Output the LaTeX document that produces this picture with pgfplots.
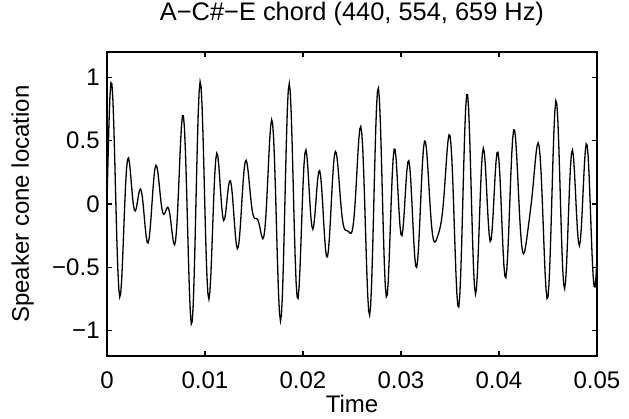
\documentclass[border=0pt]{standalone}
\usepackage{fontspec}
\setmainfont{Liberation Sans}
\usepackage{pgfplots}
\pgfplotsset{compat=1.18}
\begin{document}
\fontsize{12}{14}\selectfont
\begin{tikzpicture}
\path[use as bounding box] (0,0) rectangle (314.5pt,209.5pt);
\begin{axis}[
  at={(53.5pt,31.5pt)}, anchor=south west,
  scale only axis, width=245pt, height=152pt,
  xmin=0, xmax=0.05, ymin=-1.2, ymax=1.2,
  scaled x ticks=false, scaled y ticks=false,
  xtick={0,0.01,0.02,0.03,0.04,0.05},
  xticklabels={0,0.01,0.02,0.03,0.04,0.05},
  ytick={-1,-0.5,0,0.5,1},
  yticklabels={−1,−0.5,0,0.5,1},
  tick align=inside,
  major tick length=2.5pt,
  axis line style={line width=0.9pt},
  tick style={line width=0.7pt, black},
  xticklabel style={anchor=north, inner sep=0pt, yshift=-7.5pt},
  yticklabel style={anchor=east, inner sep=0pt, xshift=-3.5pt},
  title={A−C\#−E chord (440, 554, 659 Hz)},
  title style={at={(axis description cs:0.5,1)}, anchor=base, yshift=10pt, inner sep=0pt, font=\fontsize{12.7}{14}\selectfont},
  xlabel={Time},
  xlabel style={at={(axis description cs:0.5,0)}, anchor=base, yshift=-28pt, inner sep=0pt},
  ylabel={Speaker cone location},
  ylabel style={at={(axis description cs:0,0.5)}, anchor=base, yshift=39pt, inner sep=0pt},
]
\addplot[black, line width=0.65pt] coordinates {
(0,0) (0.0001,0.339) (0.0002,0.634) (0.0003,0.849) (0.0004,0.958) (0.0005,0.948) (0.0006,0.825) (0.0007,0.608) (0.0008,0.327) (0.0009,0.022)
(0.0010,-0.268) (0.0011,-0.507) (0.0012,-0.667) (0.0013,-0.734) (0.0014,-0.707) (0.0015,-0.597) (0.0016,-0.426) (0.0017,-0.224) (0.0018,-0.021) (0.0019,0.156)
(0.0020,0.284) (0.0021,0.354) (0.0022,0.364) (0.0023,0.322) (0.0024,0.244) (0.0025,0.150) (0.0026,0.059) (0.0027,-0.011) (0.0028,-0.050) (0.0029,-0.055)
(0.0030,-0.030) (0.0031,0.014) (0.0032,0.063) (0.0033,0.102) (0.0034,0.119) (0.0035,0.105) (0.0036,0.060) (0.0037,-0.011) (0.0038,-0.098) (0.0039,-0.186)
(0.0040,-0.258) (0.0041,-0.302) (0.0042,-0.308) (0.0043,-0.273) (0.0044,-0.200) (0.0045,-0.099) (0.0046,0.016) (0.0047,0.127) (0.0048,0.220) (0.0049,0.282)
(0.0050,0.306) (0.0051,0.292) (0.0052,0.245) (0.0053,0.175) (0.0054,0.097) (0.0055,0.023) (0.0056,-0.036) (0.0057,-0.071) (0.0058,-0.082) (0.0059,-0.073)
(0.0060,-0.054) (0.0061,-0.034) (0.0062,-0.026) (0.0063,-0.038) (0.0064,-0.073) (0.0065,-0.129) (0.0066,-0.196) (0.0067,-0.262) (0.0068,-0.309) (0.0069,-0.322)
(0.0070,-0.288) (0.0071,-0.202) (0.0072,-0.066) (0.0073,0.106) (0.0074,0.295) (0.0075,0.475) (0.0076,0.617) (0.0077,0.697) (0.0078,0.696) (0.0079,0.604)
(0.0080,0.426) (0.0081,0.180) (0.0082,-0.108) (0.0083,-0.402) (0.0084,-0.662) (0.0085,-0.853) (0.0086,-0.947) (0.0087,-0.927) (0.0088,-0.793) (0.0089,-0.558)
(0.0090,-0.252) (0.0091,0.088) (0.0092,0.417) (0.0093,0.695) (0.0094,0.886) (0.0095,0.966) (0.0096,0.927) (0.0097,0.777) (0.0098,0.538) (0.0099,0.244)
(0.0100,-0.066) (0.0101,-0.350) (0.0102,-0.574) (0.0103,-0.711) (0.0104,-0.751) (0.0105,-0.694) (0.0106,-0.556) (0.0107,-0.362) (0.0108,-0.145) (0.0109,0.065)
(0.0110,0.237) (0.0111,0.353) (0.0112,0.401) (0.0113,0.384) (0.0114,0.312) (0.0115,0.206) (0.0116,0.089) (0.0117,-0.018) (0.0118,-0.094) (0.0119,-0.130)
(0.0120,-0.122) (0.0121,-0.076) (0.0122,-0.004) (0.0123,0.074) (0.0124,0.141) (0.0125,0.181) (0.0126,0.183) (0.0127,0.143) (0.0128,0.067) (0.0129,-0.035)
(0.0130,-0.145) (0.0131,-0.246) (0.0132,-0.320) (0.0133,-0.353) (0.0134,-0.340) (0.0135,-0.281) (0.0136,-0.183) (0.0137,-0.061) (0.0138,0.068) (0.0139,0.186)
(0.0140,0.278) (0.0141,0.332) (0.0142,0.345) (0.0143,0.319) (0.0144,0.261) (0.0145,0.183) (0.0146,0.099) (0.0147,0.021) (0.0148,-0.042) (0.0149,-0.084)
(0.0150,-0.106) (0.0151,-0.114) (0.0152,-0.114) (0.0153,-0.116) (0.0154,-0.127) (0.0155,-0.150) (0.0156,-0.184) (0.0157,-0.224) (0.0158,-0.257) (0.0159,-0.274)
(0.0160,-0.259) (0.0161,-0.206) (0.0162,-0.110) (0.0163,0.024) (0.0164,0.185) (0.0165,0.353) (0.0166,0.505) (0.0167,0.616) (0.0168,0.665) (0.0169,0.636)
(0.0170,0.525) (0.0171,0.336) (0.0172,0.089) (0.0173,-0.189) (0.0174,-0.464) (0.0175,-0.698) (0.0176,-0.859) (0.0177,-0.923) (0.0178,-0.876) (0.0179,-0.720)
(0.0180,-0.473) (0.0181,-0.164) (0.0182,0.169) (0.0183,0.483) (0.0184,0.738) (0.0185,0.901) (0.0186,0.952) (0.0187,0.886) (0.0188,0.713) (0.0189,0.459)
(0.0190,0.159) (0.0191,-0.147) (0.0192,-0.418) (0.0193,-0.622) (0.0194,-0.733) (0.0195,-0.745) (0.0196,-0.660) (0.0197,-0.499) (0.0198,-0.289) (0.0199,-0.063)
(0.0200,0.145) (0.0201,0.307) (0.0202,0.403) (0.0203,0.427) (0.0204,0.381) (0.0205,0.283) (0.0206,0.153) (0.0207,0.018) (0.0208,-0.098) (0.0209,-0.174)
(0.0210,-0.198) (0.0211,-0.171) (0.0212,-0.100) (0.0213,-0.001) (0.0214,0.106) (0.0215,0.197) (0.0216,0.253) (0.0217,0.263) (0.0218,0.222) (0.0219,0.133)
(0.0220,0.011) (0.0221,-0.126) (0.0222,-0.256) (0.0223,-0.358) (0.0224,-0.415) (0.0225,-0.418) (0.0226,-0.364) (0.0227,-0.262) (0.0228,-0.126) (0.0229,0.027)
(0.0230,0.173) (0.0231,0.296) (0.0232,0.379) (0.0233,0.415) (0.0234,0.403) (0.0235,0.349) (0.0236,0.264) (0.0237,0.163) (0.0238,0.059) (0.0239,-0.034)
(0.0240,-0.108) (0.0241,-0.160) (0.0242,-0.190) (0.0243,-0.204) (0.0244,-0.209) (0.0245,-0.211) (0.0246,-0.215) (0.0247,-0.222) (0.0248,-0.230) (0.0249,-0.231)
(0.0250,-0.218) (0.0251,-0.180) (0.0252,-0.113) (0.0253,-0.015) (0.0254,0.110) (0.0255,0.252) (0.0256,0.393) (0.0257,0.514) (0.0258,0.593) (0.0259,0.612)
(0.0260,0.560) (0.0261,0.435) (0.0262,0.242) (0.0263,0.002) (0.0264,-0.258) (0.0265,-0.508) (0.0266,-0.713) (0.0267,-0.843) (0.0268,-0.877) (0.0269,-0.807)
(0.0270,-0.636) (0.0271,-0.383) (0.0272,-0.079) (0.0273,0.240) (0.0274,0.532) (0.0275,0.760) (0.0276,0.893) (0.0277,0.916) (0.0278,0.826) (0.0279,0.637)
(0.0280,0.375) (0.0281,0.077) (0.0282,-0.218) (0.0283,-0.470) (0.0284,-0.648) (0.0285,-0.733) (0.0286,-0.717) (0.0287,-0.609) (0.0288,-0.430) (0.0289,-0.210)
(0.0290,0.016) (0.0291,0.215) (0.0292,0.359) (0.0293,0.433) (0.0294,0.430) (0.0295,0.358) (0.0296,0.235) (0.0297,0.087) (0.0298,-0.058) (0.0299,-0.174)
(0.0300,-0.242) (0.0301,-0.250) (0.0302,-0.200) (0.0303,-0.102) (0.0304,0.024) (0.0305,0.155) (0.0306,0.264) (0.0307,0.331) (0.0308,0.341) (0.0309,0.290)
(0.0310,0.183) (0.0311,0.036) (0.0312,-0.129) (0.0313,-0.287) (0.0314,-0.414) (0.0315,-0.489) (0.0316,-0.500) (0.0317,-0.445) (0.0318,-0.331) (0.0319,-0.174)
(0.0320,0.006) (0.0321,0.183) (0.0322,0.335) (0.0323,0.443) (0.0324,0.497) (0.0325,0.493) (0.0326,0.435) (0.0327,0.336) (0.0328,0.211) (0.0329,0.077)
(0.0330,-0.048) (0.0331,-0.154) (0.0332,-0.231) (0.0333,-0.279) (0.0334,-0.300) (0.0335,-0.299) (0.0336,-0.285) (0.0337,-0.264) (0.0338,-0.240) (0.0339,-0.214)
(0.0340,-0.183) (0.0341,-0.143) (0.0342,-0.089) (0.0343,-0.015) (0.0344,0.078) (0.0345,0.187) (0.0346,0.303) (0.0347,0.413) (0.0348,0.500) (0.0349,0.547)
(0.0350,0.541) (0.0351,0.471) (0.0352,0.338) (0.0353,0.150) (0.0354,-0.075) (0.0355,-0.312) (0.0356,-0.532) (0.0357,-0.705) (0.0358,-0.804) (0.0359,-0.813)
(0.0360,-0.725) (0.0361,-0.546) (0.0362,-0.295) (0.0363,-0.003) (0.0364,0.295) (0.0365,0.560) (0.0366,0.758) (0.0367,0.863) (0.0368,0.862) (0.0369,0.753)
(0.0370,0.555) (0.0371,0.293) (0.0372,0.004) (0.0373,-0.273) (0.0374,-0.502) (0.0375,-0.653) (0.0376,-0.711) (0.0377,-0.670) (0.0378,-0.544) (0.0379,-0.355)
(0.0380,-0.134) (0.0381,0.085) (0.0382,0.269) (0.0383,0.392) (0.0384,0.440) (0.0385,0.411) (0.0386,0.316) (0.0387,0.175) (0.0388,0.015) (0.0389,-0.132)
(0.0390,-0.242) (0.0391,-0.295) (0.0392,-0.282) (0.0393,-0.206) (0.0394,-0.082) (0.0395,0.068) (0.0396,0.217) (0.0397,0.338) (0.0398,0.406) (0.0399,0.409)
(0.0400,0.342) (0.0401,0.213) (0.0402,0.039) (0.0403,-0.154) (0.0404,-0.337) (0.0405,-0.483) (0.0406,-0.568) (0.0407,-0.581) (0.0408,-0.517) (0.0409,-0.385)
(0.0410,-0.202) (0.0411,0.006) (0.0412,0.214) (0.0413,0.392) (0.0414,0.521) (0.0415,0.585) (0.0416,0.581) (0.0417,0.512) (0.0418,0.392) (0.0419,0.239)
(0.0420,0.073) (0.0421,-0.085) (0.0422,-0.218) (0.0423,-0.316) (0.0424,-0.375) (0.0425,-0.394) (0.0426,-0.381) (0.0427,-0.344) (0.0428,-0.293) (0.0429,-0.235)
(0.0430,-0.176) (0.0431,-0.116) (0.0432,-0.055) (0.0433,0.010) (0.0434,0.082) (0.0435,0.163) (0.0436,0.249) (0.0437,0.335) (0.0438,0.411) (0.0439,0.464)
(0.0440,0.483) (0.0441,0.455) (0.0442,0.374) (0.0443,0.242) (0.0444,0.066) (0.0445,-0.137) (0.0446,-0.346) (0.0447,-0.534) (0.0448,-0.674) (0.0449,-0.746)
(0.0450,-0.735) (0.0451,-0.635) (0.0452,-0.455) (0.0453,-0.215) (0.0454,0.058) (0.0455,0.331) (0.0456,0.566) (0.0457,0.735) (0.0458,0.814) (0.0459,0.792)
(0.0460,0.673) (0.0461,0.472) (0.0462,0.218) (0.0463,-0.054) (0.0464,-0.309) (0.0465,-0.511) (0.0466,-0.636) (0.0467,-0.668) (0.0468,-0.609) (0.0469,-0.471)
(0.0470,-0.279) (0.0471,-0.064) (0.0472,0.141) (0.0473,0.304) (0.0474,0.403) (0.0475,0.425) (0.0476,0.373) (0.0477,0.258) (0.0478,0.105) (0.0479,-0.057)
(0.0480,-0.200) (0.0481,-0.296) (0.0482,-0.329) (0.0483,-0.292) (0.0484,-0.191) (0.0485,-0.043) (0.0486,0.127) (0.0487,0.288) (0.0488,0.412) (0.0489,0.475)
(0.0490,0.464) (0.0491,0.376) (0.0492,0.221) (0.0493,0.020) (0.0494,-0.198) (0.0495,-0.401) (0.0496,-0.560) (0.0497,-0.649) (0.0498,-0.655) (0.0499,-0.575)
(0.0500,-0.420)
};
\end{axis}
\end{tikzpicture}
\end{document}
